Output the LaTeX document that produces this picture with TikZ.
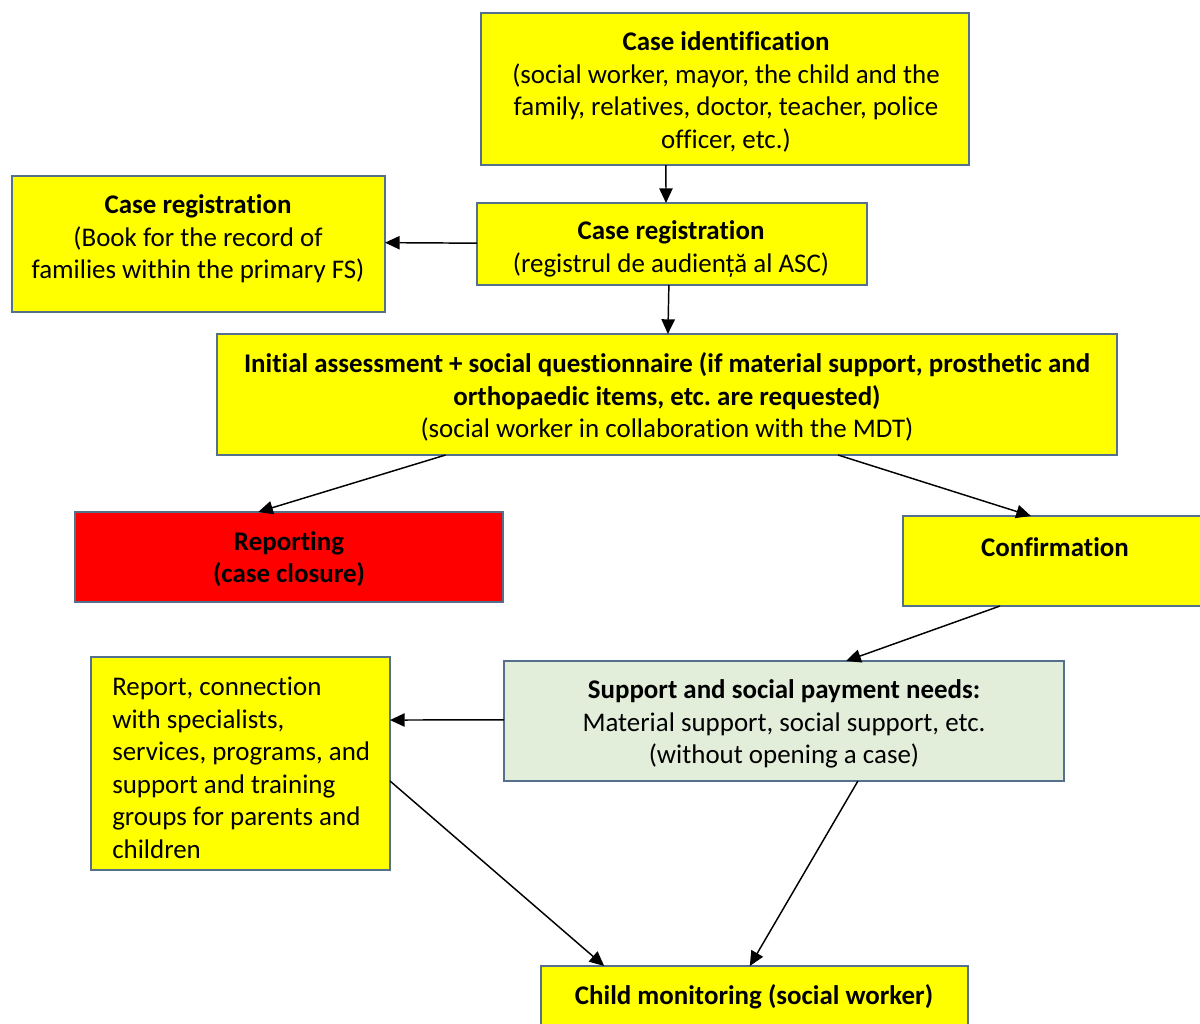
\documentclass[tikz,border=0pt]{standalone}
\usepackage{fontspec}
\setmainfont{Carlito}[RawFeature={-liga}]
\usetikzlibrary{fit,calc,arrows.meta}
\definecolor{bordc}{RGB}{84,112,140}
\definecolor{ylw}{RGB}{255,255,0}
\definecolor{rd}{RGB}{255,0,0}
\definecolor{grn}{RGB}{226,238,218}
\tikzset{
  box/.style={draw=bordc, line width=1.5pt, inner sep=0pt, outer sep=0pt},
  txt/.style={align=center, inner sep=0pt, font=\frenchspacing\fontsize{20.2}{24.4}\selectfont},
  conn/.style={draw=black, line width=1.1pt, -{Triangle[length=11pt,width=10pt]}},
}
\begin{document}
\begin{tikzpicture}[x=0.75pt,y=-0.75pt]
\useasboundingbox (0,0) rectangle (1200,1024);
% boxes
\node[box, fill=ylw, fit={(481,13) (969,165)}] (cid) {};
\node[box, fill=ylw, fit={(477,203) (867,285)}] (regm) {};
\node[box, fill=ylw, fit={(12,176) (385,312)}] (regl) {};
\node[box, fill=ylw, fit={(217,334) (1117,455)}] (init) {};
\node[box, fill=rd, fit={(75,512) (503,602)}] (rep) {};
\node[box, fill=ylw, fit={(903,516) (1215,606)}] (conf) {};
\node[box, fill=grn, fit={(504,661) (1064,781)}] (sup) {};
\node[box, fill=ylw, fit={(91,657) (390,870)}] (repc) {};
\node[box, fill=ylw, fit={(541,966) (968,1040)}] (child) {};
% texts
\node[txt] (tcid) at (726,92) {\textbf{Case identification}\\(social worker, mayor, the child and the\\family, relatives, doctor, teacher, police\\officer, etc.)};
\node[txt] (tregm) at (671,249) {\textbf{Case registration}\\(registrul de audiență al ASC)};
\node[txt] (tregl) at (198,239) {\textbf{Case registration}\\(Book for the record of\\families within the primary FS)};
\node[txt] (tinit) at (667,397) {\textbf{Initial assessment + social questionnaire (if material support, prosthetic and}\\\textbf{orthopaedic items, etc. are requested)}\\(social worker in collaboration with the MDT)};
\node[txt] (trep) at (289,559) {\textbf{Reporting}\\\textbf{(case closure)}};
\node[txt] (tconf) at (1055,547) {\textbf{Confirmation}};
\node[txt] (tsup) at (784,724) {\textbf{Support and social payment needs:}\\Material support, social support, etc.\\(without opening a case)};
\node[txt, align=left, anchor=west] (trepc) at (112,768) {Report, connection\\with specialists,\\services, programs, and\\support and training\\groups for parents and\\children};
\node[txt] (tchild) at (754,997) {\textbf{Child monitoring (social worker)}};
% connectors
\draw[conn] ($(cid.south west)!0.379!(cid.south east)$) -- ($(regm.north west)!0.4846!(regm.north east)$);
\draw[conn] ($(regm.north west)!0.49!(regm.south west)$) -- ($(regl.north east)!0.49!(regl.south east)$);
\draw[conn] ($(regm.south west)!0.492!(regm.south east)$) -- ($(init.north west)!0.501!(init.north east)$);
\draw[conn] ($(init.south west)!0.254!(init.south east)$) -- ($(rep.north west)!0.428!(rep.north east)$);
\draw[conn] ($(init.south west)!0.69!(init.south east)$) -- ($(conf.north west)!0.41!(conf.north east)$);
\draw[conn] ($(conf.south west)!0.311!(conf.south east)$) -- ($(sup.north west)!0.611!(sup.north east)$);
\draw[conn] ($(sup.north west)!0.49!(sup.south west)$) -- ($(repc.north east)!0.296!(repc.south east)$);
\draw[conn] ($(repc.north east)!0.582!(repc.south east)$) -- ($(child.north west)!0.148!(child.north east)$);
\draw[conn] ($(sup.south west)!0.632!(sup.south east)$) -- ($(child.north west)!0.489!(child.north east)$);
\end{tikzpicture}
\end{document}
